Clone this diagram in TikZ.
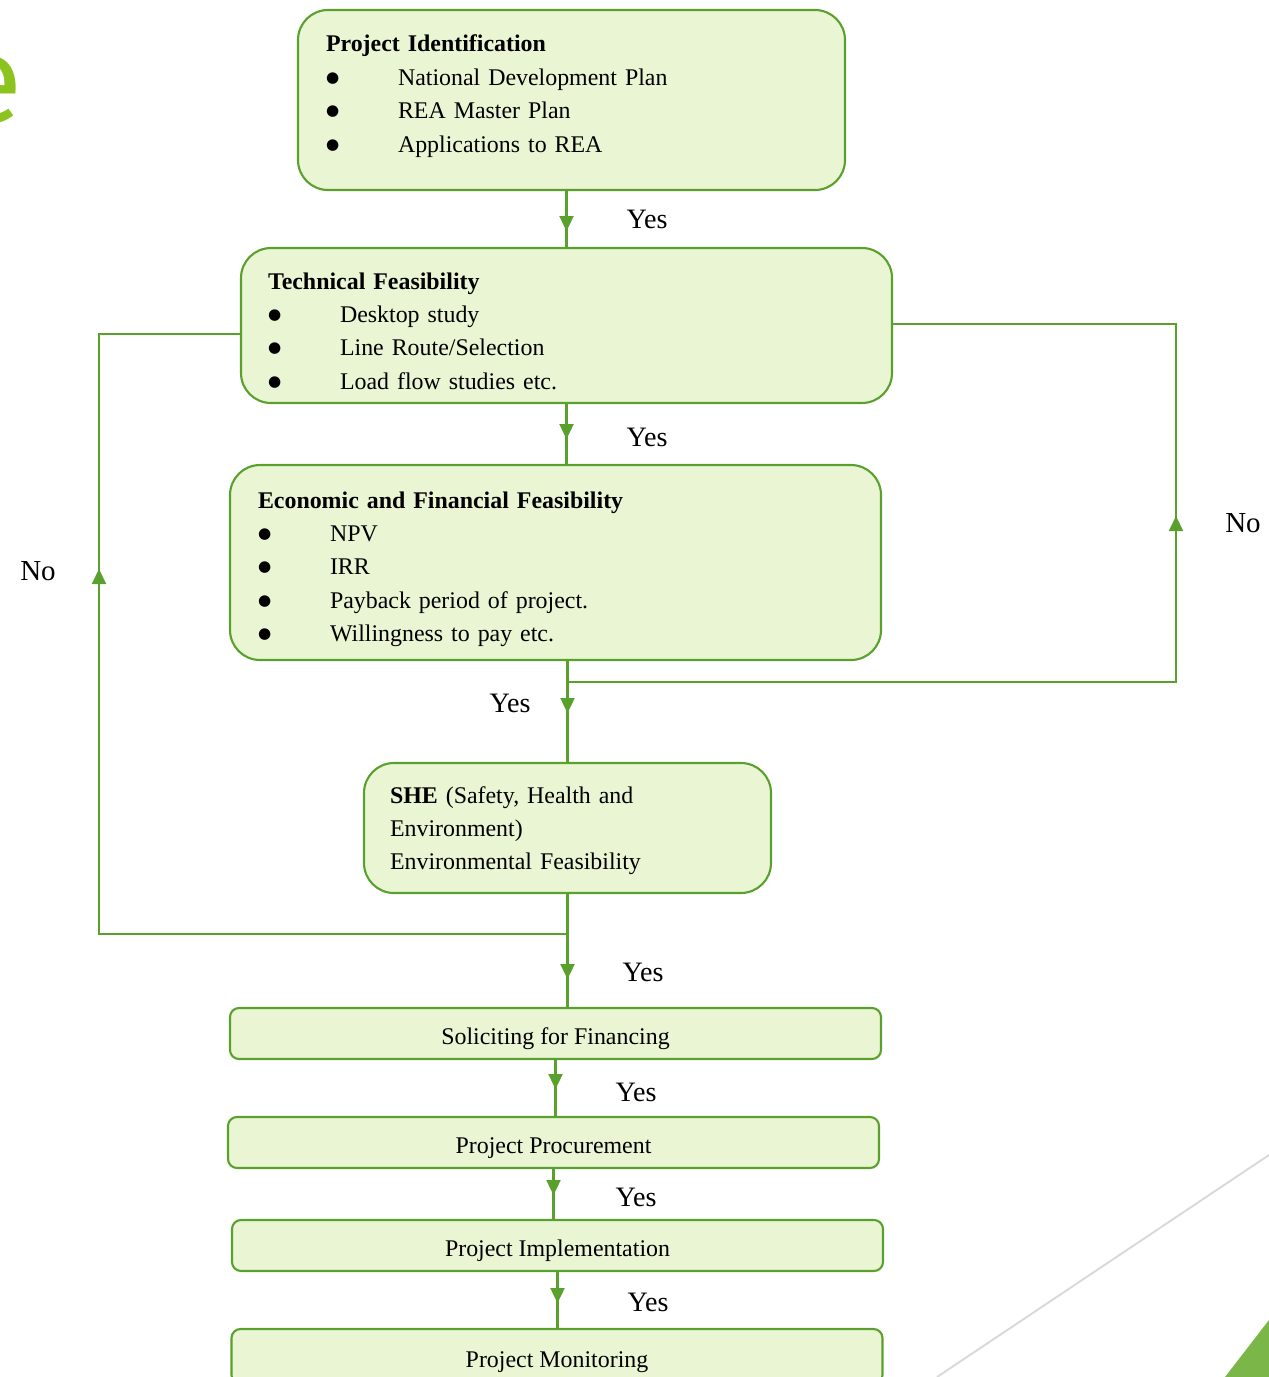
\documentclass[tikz,border=0pt]{standalone}
\usepackage{fontspec}
\setmainfont{Liberation Serif}
\newfontfamily\slidefont{Fira Sans}
\newfontfamily\bulletfont{DejaVu Sans}
\usepackage{tikz}
\usetikzlibrary{arrows.meta,positioning,decorations.markings,calc}
\definecolor{flowgreen}{HTML}{5AA02C}
\definecolor{boxfill}{HTML}{EAF5D3}
\definecolor{slidegreen}{HTML}{8CC31E}
\definecolor{cornergreen}{HTML}{7AB648}
\definecolor{slidegrey}{HTML}{D9D9D9}

\newcommand{\stagebullet}{\raisebox{0.06cm}{\bulletfont\fontsize{8.6}{19}\selectfont ●}}
\newcommand{\stageitem}[1]{\makebox[1.44cm][l]{\stagebullet}#1}

\tikzset{
  stagebox/.style={draw=flowgreen, fill=boxfill, line width=1.2pt, rounded corners=0.6cm,
    align=left, text height=0.4cm, font=\fontsize{13.6}{19}\selectfont},
  barbox/.style={draw=flowgreen, fill=boxfill, line width=1.2pt, rounded corners=0.18cm,
    minimum width=13.02cm, minimum height=1.02cm, text height=0.46cm, text depth=0.04cm,
    font=\fontsize{13.6}{19}\selectfont},
  flow/.style={draw=flowgreen, color=flowgreen, line width=1.2pt},
  midarrow/.style={postaction={decorate}, decoration={markings,
    mark=at position #1 with {\arrow{Triangle[width=0.28cm,length=0.3cm]}}}},
  yeslabel/.style={font=\fontsize{16}{19}\selectfont},
  nolabel/.style={font=\fontsize{16.5}{19}\selectfont},
}

\begin{document}
\begin{tikzpicture}
  \useasboundingbox (0,0) rectangle (25.38,-27.54);
  \clip (0,0) rectangle (25.38,-27.54);

  % slide leftovers
  \node[text=slidegreen, font=\slidefont\fontsize{70}{70}\selectfont, inner sep=0pt, anchor=east]
    (slidetitle) at (0.46,-1.81) {e};
  \draw[slidegrey, line width=1.1pt] (25.38,-23.1) -- (18.74,-27.54);
  \fill[cornergreen] (24.5,-27.54) -- (25.38,-26.4) -- (25.38,-27.54) -- cycle;

  % stages
  \node[stagebox, minimum width=10.94cm, minimum height=3.6cm, text width=9.82cm,
    inner xsep=0.56cm, text depth=2.32cm] (idbox) at (11.43,-2.0) {
    \textbf{Project Identification}\\
    \stageitem{National Development Plan}\\
    \stageitem{REA Master Plan}\\
    \stageitem{Applications to REA}};

  \node[stagebox, minimum width=13.02cm, minimum height=3.1cm, text width=11.94cm,
    inner xsep=0.54cm, text depth=1.86cm] (techbox) at (11.33,-6.51) {
    \textbf{Technical Feasibility}\\
    \stageitem{Desktop study}\\
    \stageitem{Line Route/Selection}\\
    \stageitem{Load flow studies etc.}};

  \node[stagebox, minimum width=13.02cm, minimum height=3.9cm, text width=11.9cm,
    inner xsep=0.56cm, text depth=2.58cm] (econbox) at (11.11,-11.25) {
    \textbf{Economic and Financial Feasibility}\\
    \stageitem{NPV}\\
    \stageitem{IRR}\\
    \stageitem{Payback period of project.}\\
    \stageitem{Willingness to pay etc.}};

  \node[stagebox, minimum width=8.14cm, minimum height=2.6cm, text width=7.1cm,
    inner xsep=0.52cm, text depth=1.4cm] (shebox) at (11.35,-16.56) {
    \textbf{SHE} (Safety, Health and\\
    Environment)\\
    Environmental Feasibility};

  \node[barbox] (solbox) at (11.11,-20.67) {Soliciting for Financing};
  \node[barbox] (procbox) at (11.07,-22.85) {Project Procurement};
  \node[barbox] (implbox) at (11.15,-24.91) {Project Implementation};
  \node[barbox, minimum height=1.1cm] (monbox) at (11.14,-27.13) {Project Monitoring};

  % yes path
  \draw[flow, midarrow=0.8cm] (techbox.north |- idbox.south) -- (techbox.north);
  \draw[flow, midarrow=0.7cm] (techbox.south) -- (techbox.south |- econbox.north);
  \draw[flow, midarrow=1.04cm] (shebox.north |- econbox.south) -- (shebox.north);
  \draw[flow, midarrow=1.7cm] (shebox.south) -- (shebox.south |- solbox.north);
  \draw[flow, midarrow=0.58cm] (solbox.south) -- (solbox.south |- procbox.north);
  \draw[flow, midarrow=0.52cm] (procbox.south) -- (procbox.south |- implbox.north);
  \draw[flow, midarrow=0.62cm] (implbox.south) -- (implbox.south |- monbox.north);

  % no paths
  \coordinate (leftlow) at (1.98,-18.68);
  \coordinate (lefthigh) at (1.98,-6.68);
  \coordinate (rightlow) at (23.52,-13.64);
  \coordinate (righthigh) at (23.52,-6.48);
  \draw[flow, midarrow=16.67cm] (shebox.south |- leftlow) -- (leftlow) -- (lefthigh)
    -- (lefthigh -| techbox.west);
  \draw[flow, midarrow=15.49cm] (shebox.north |- rightlow) -- (rightlow) -- (righthigh)
    -- (righthigh -| techbox.east);

  % labels
  \node[yeslabel] (yes1) at (12.94,-4.38) {Yes};
  \node[yeslabel] (yes2) at (12.94,-8.74) {Yes};
  \node[yeslabel] (yes3) at (10.2,-14.06) {Yes};
  \node[yeslabel] (yes4) at (12.86,-19.44) {Yes};
  \node[yeslabel] (yes5) at (12.72,-21.84) {Yes};
  \node[yeslabel] (yes6) at (12.72,-23.94) {Yes};
  \node[yeslabel] (yes7) at (12.96,-26.04) {Yes};
  \node[nolabel] (noleft) at (0.76,-11.42) {No};
  \node[nolabel] (noright) at (24.86,-10.46) {No};
\end{tikzpicture}
\end{document}
